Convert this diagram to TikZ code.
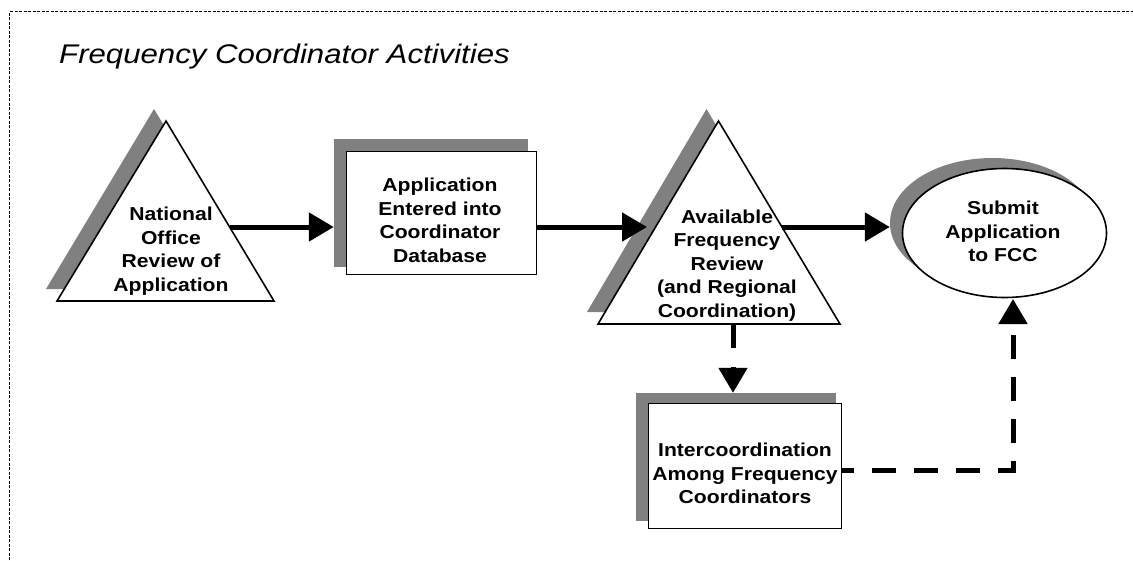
\documentclass[tikz,border=0pt]{standalone}
\usepackage{fontspec}
\setmainfont{Liberation Sans}
\newfontfamily\labfont{Liberation Sans}[FakeStretch=1.13]
\newfontfamily\titfont{Liberation Sans}[FakeStretch=1.155]
\usetikzlibrary{arrows.meta,shapes.geometric}
\definecolor{shadowgray}{RGB}{128,128,128}
\begin{document}
\begin{tikzpicture}[x=1pt,y=-1pt,
  shadowfill/.style={fill=shadowgray,draw=none},
  outline/.style={fill=white,draw=black,line width=1.6pt},
  boxshadow/.style={shadowfill,rectangle,inner sep=0pt},
  boxmain/.style={outline,rectangle,inner sep=0pt},
  ellshadow/.style={shadowfill,ellipse,inner sep=0pt,minimum width=205pt,minimum height=130pt},
  ellmain/.style={outline,ellipse,inner sep=0pt,minimum width=204pt,minimum height=129pt},
  lab/.style={align=center,inner sep=0pt,text=black,font=\labfont\bfseries\fontsize{18.7}{23.5}\selectfont},
  arr/.style={line width=5pt,-{Triangle[length=25pt,width=28pt]}},
  dasharr/.style={arr,dash pattern=on 24pt off 18pt},
  frameline/.style={line width=1.5pt,dash pattern=on 3pt off 1.5pt}
]
\useasboundingbox (0,0) rectangle (1133,560);
% frame
\draw[frameline] (9.5,560) -- (9.5,11.5) -- (1133,11.5);
% title
\node[anchor=base west,inner sep=0pt,font=\titfont\itshape\fontsize{27}{32}\selectfont] (title) at (59,63) {Frequency Coordinator Activities};
% triangle 1
\fill[shadowfill] (154,109) -- (263,289) -- (46,289) -- cycle;
\draw[outline] (166,121) -- (274,301) -- (57,301) -- cycle;
\node[lab] (l1) at (171,251.4) {National\\Office\\Review of\\Application};
% box 1
\node[boxshadow,minimum width=194pt,minimum height=128pt] (b1s) at (431,203) {};
\node[boxmain,minimum width=190pt,minimum height=123pt] (b1) at (441.5,213) {};
\node[lab] (l2) at (440,220.5) {Application\\Entered into\\Coordinator\\Database};
% triangle 2
\fill[shadowfill] (706.5,109) -- (828,312) -- (587,312) -- cycle;
\draw[outline] (718.5,121) -- (840,324) -- (598,324) -- cycle;
\node[lab] (l3) at (727,265.2) {Available\\Frequency\\Review\\(and Regional\\Coordination)};
% ellipse
\node[ellshadow] (es) at (992.5,223) {};
\node[ellmain] (e) at (1004.5,233) {};
\node[lab] (l4) at (1003,231.7) {Submit\\Application\\to FCC};
% box 3
\node[boxshadow,minimum width=200pt,minimum height=128pt] (b3s) at (736,457) {};
\node[boxmain,minimum width=193pt,minimum height=125pt] (b3) at (745,466) {};
\node[lab] (l5) at (745,473.7) {Intercoordination\\Among Frequency\\Coordinators};
% connector points
\coordinate (t1e) at (230,227);
\coordinate (t2w) at (647,227);
\coordinate (t2e) at (782,227);
\coordinate (t2b) at (733,324);
\coordinate (cor) at (1013,470);
\coordinate (ecb) at (1013,299);
% connectors
\draw[arr] (t1e) -- (b1s.west |- t1e);
\draw[arr] (b1.east |- t1e) -- (t2w);
\draw[arr] (t2e) -- (es.west |- t2e);
\draw[dasharr,dash pattern=on 24pt off 19pt] (t2b) -- (b3s.north -| t2b);
\draw[dasharr,dash phase=12pt] (b3.east |- cor) -- (cor) -- (ecb);
\end{tikzpicture}
\end{document}
